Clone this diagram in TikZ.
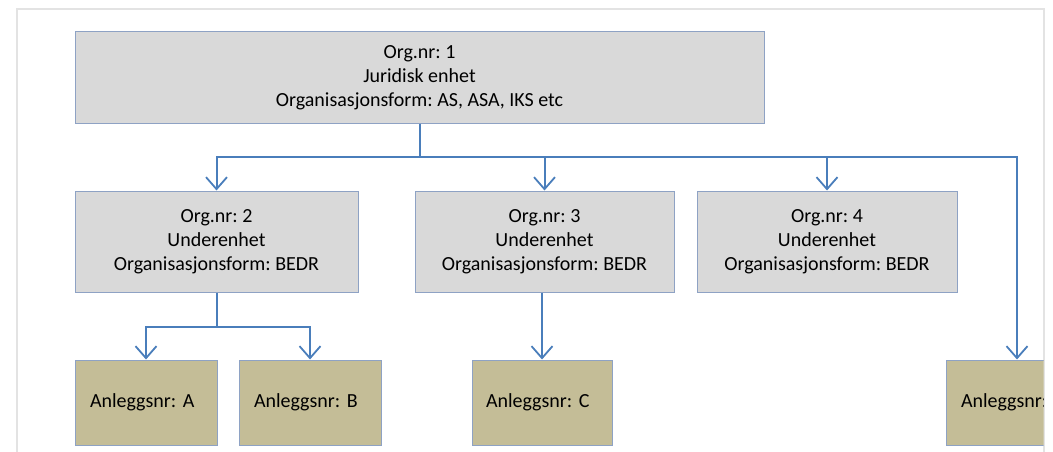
\documentclass[tikz,border=0pt]{standalone}
\usepackage{fontspec}
\setmainfont{Carlito}
\usetikzlibrary{arrows.meta}
\definecolor{conncol}{HTML}{4A7EBB}
\definecolor{boxline}{HTML}{8EA2C4}
\definecolor{grayfill}{HTML}{D9D9D9}
\definecolor{khaki}{HTML}{C4BD97}
\definecolor{framecol}{HTML}{E3E3E3}
\frenchspacing
\tikzset{
  unitbox/.style={draw=boxline, line width=1pt, fill=grayfill, align=center, inner sep=0pt,
    font=\fontsize{20}{24}\selectfont},
  sitebox/.style={draw=boxline, line width=1pt, fill=khaki, inner sep=0pt,
    minimum width=142pt, minimum height=85pt, text width=112pt, align=left,
    font=\fontsize{20}{24}\selectfont},
  conn/.style={draw=conncol, line width=2pt, -{Straight Barb[length=12pt,width=21pt,line width=1.8pt]}},
  plainconn/.style={draw=conncol, line width=2pt}
}
\begin{document}
\begin{tikzpicture}[x=1pt,y=-1pt]
\useasboundingbox (0,0) rectangle (1053,452);
\draw[framecol, line width=1.5pt] (17,470) -- (17,9) -- (1044,9) -- (1044,470);
\node[unitbox, minimum width=689pt, minimum height=91pt] (top) at (419.5,77.5)
  {Org.nr: 1\\Juridisk enhet\\Organisasjonsform: AS, ASA, IKS etc};
\node[unitbox, minimum width=283pt, minimum height=101pt] (n2) at (216.5,241.5)
  {Org.nr: 2\\Underenhet\\Organisasjonsform: BEDR};
\node[unitbox, minimum width=259pt, minimum height=101pt] (n3) at (544.5,241.5)
  {Org.nr: 3\\Underenhet\\Organisasjonsform: BEDR};
\node[unitbox, minimum width=260pt, minimum height=101pt] (n4) at (827,241.5)
  {Org.nr: 4\\Underenhet\\Organisasjonsform: BEDR};
\node[sitebox] (a) at (146,402.5) {Anleggsnr: A};
\node[sitebox] (b) at (310,402.5) {Anleggsnr: B};
\node[sitebox, minimum width=140pt, text width=112pt] (c) at (542,402.5) {Anleggsnr: C};
\begin{scope}
\clip (0,0) rectangle (1043.5,452);
\node[sitebox] (d) at (1017,402.5) {Anleggsnr:};
\end{scope}
\coordinate (bus) at (0,157);
\coordinate (bustwo) at (0,327);
\draw[plainconn] (top.south) -- (top.south |- bus);
\draw[conn] (top.south |- bus) -| (n2.north);
\draw[conn] (top.south |- bus) -| (n3.north);
\draw[conn] (top.south |- bus) -| (n4.north);
\draw[conn] (top.south |- bus) -| (d.north);
\draw[plainconn] (n2.south) -- (n2.south |- bustwo);
\draw[conn] (n2.south |- bustwo) -| (a.north);
\draw[conn] (n2.south |- bustwo) -| (b.north);
\draw[conn] (n3.south -| c.north) -- (c.north);
\end{tikzpicture}
\end{document}
